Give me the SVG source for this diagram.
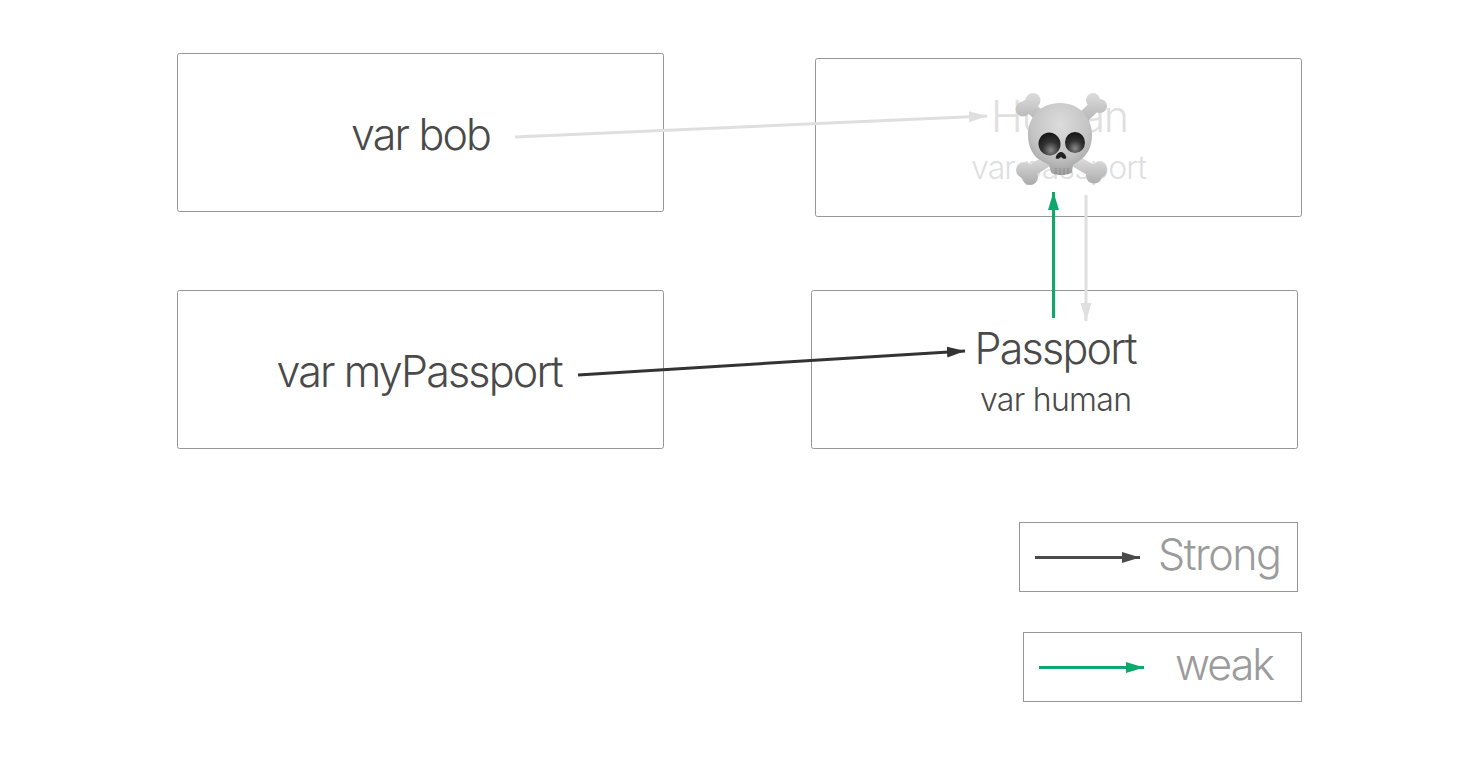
<svg xmlns="http://www.w3.org/2000/svg" width="1482" height="761" viewBox="0 0 1482 761">
<style>
.box{fill:#fff;stroke:#979797;stroke-width:1}
text{font-family:"Inter","Liberation Sans",sans-serif;font-weight:340;text-anchor:middle}
.dark{fill:#4a4a4a}.grey{fill:#9b9b9b}.faint{fill:#dfdfdf}
.l{fill:none;stroke-width:3}
.bt{stroke:url(#bt);stroke-width:12;stroke-linecap:round;fill:none}
.bb{stroke:url(#bb);stroke-width:12;stroke-linecap:round;fill:none}
</style>
<defs>
<marker id="ad" markerUnits="userSpaceOnUse" markerWidth="20" markerHeight="12" refX="18" refY="6" orient="auto"><path d="M0,0.500 L18,6 L0,11.500 Z" fill="#333"/></marker>
<marker id="as" markerUnits="userSpaceOnUse" markerWidth="20" markerHeight="12" refX="18" refY="6" orient="auto"><path d="M0,0.500 L18,6 L0,11.500 Z" fill="#4a4a4a"/></marker>
<marker id="ag" markerUnits="userSpaceOnUse" markerWidth="20" markerHeight="12" refX="18" refY="6" orient="auto"><path d="M0,0.500 L18,6 L0,11.500 Z" fill="#0ea86c"/></marker>
<marker id="af" markerUnits="userSpaceOnUse" markerWidth="20" markerHeight="12" refX="18" refY="6" orient="auto"><path d="M0,0.500 L18,6 L0,11.500 Z" fill="#dfdfdf"/></marker>
<radialGradient id="sk" cx="50%" cy="30%" r="75%"><stop offset="0" stop-color="#dcdcdc"/><stop offset=".6" stop-color="#c4c4c4"/><stop offset="1" stop-color="#969696"/></radialGradient>
<linearGradient id="bt" gradientUnits="userSpaceOnUse" x1="0" y1="93" x2="0" y2="126"><stop offset="0" stop-color="#dcdcdc"/><stop offset="1" stop-color="#aeaeae"/></linearGradient>
<linearGradient id="bb" gradientUnits="userSpaceOnUse" x1="0" y1="158" x2="0" y2="186"><stop offset="0" stop-color="#dcdcdc"/><stop offset="1" stop-color="#a8a8a8"/></linearGradient>
<radialGradient id="eye" cx="50%" cy="78%" r="75%"><stop offset="0" stop-color="#8a8a8a"/><stop offset=".5" stop-color="#333"/><stop offset="1" stop-color="#161616"/></radialGradient>
</defs>
<g id="bob"><rect class="box" x="177.500" y="53.500" width="486" height="158" rx="2"/><text class="dark" x="421.500" y="150" font-size="43" textLength="141">var bob</text></g>
<g id="human"><rect class="box" x="815.500" y="58.500" width="486" height="158" rx="2"/><text class="faint" x="1060" y="132" font-size="43" textLength="138">Human</text><text class="faint" x="1059" y="179" font-size="32" textLength="176">var passport</text></g>
<g id="myPassport"><rect class="box" x="177.500" y="290.500" width="486" height="158" rx="2"/><text class="dark" x="420" y="387" font-size="43" textLength="287">var myPassport</text></g>
<g id="passport"><rect class="box" x="811.500" y="290.500" width="486" height="158" rx="2"/><text class="dark" x="1056" y="364" font-size="43" textLength="163">Passport</text><text class="dark" x="1056" y="411" font-size="32" textLength="152">var human</text></g>
<g id="legend-strong"><rect class="box" x="1019.500" y="522.500" width="278" height="69"/><text class="grey" x="1220" y="570" font-size="43" textLength="124">Strong</text></g>
<g id="legend-weak"><rect class="box" x="1023.500" y="632.500" width="278" height="69"/><text class="grey" x="1225" y="680" font-size="43" textLength="100">weak</text></g>
<g id="connectors">
<line class="l" x1="515" y1="137" x2="987" y2="116" stroke="#dfdfdf" marker-end="url(#af)"/>
<line class="l" x1="578" y1="375" x2="965" y2="351" stroke="#333" marker-end="url(#ad)"/>
<line class="l" x1="1053.500" y1="318" x2="1053.500" y2="192" stroke="#0ea86c" marker-end="url(#ag)"/>
<line class="l" x1="1086" y1="195" x2="1086" y2="321" stroke="#dfdfdf" marker-end="url(#af)"/>
<line class="l" x1="1035" y1="557.500" x2="1140" y2="557.500" stroke="#4a4a4a" marker-end="url(#as)"/>
<line class="l" x1="1039" y1="667.500" x2="1144" y2="667.500" stroke="#0ea86c" marker-end="url(#ag)"/>
</g>
<g id="skull">
<path class="bt" d="M1028,105 L1052,128"/>
<path class="bt" d="M1097,104 L1072,128"/>
<path class="bb" d="M1026,174 L1052,158"/>
<path class="bb" d="M1096,173 L1070,158"/>
<g fill="url(#bt)">
<circle cx="1033" cy="100.500" r="7.500"/><circle cx="1023" cy="109" r="7.500"/>
<circle cx="1093" cy="100" r="7"/><circle cx="1100" cy="106" r="7"/>
</g>
<g fill="url(#bb)">
<circle cx="1024" cy="170" r="8"/><circle cx="1030" cy="177" r="8"/>
<circle cx="1099" cy="170" r="8"/><circle cx="1094" cy="175.500" r="8"/>
</g>
<path d="M1060,103 C1080,103 1092,118 1092,135 C1092,146 1088,153 1083,158 C1079,161 1076,163 1073,165 L1072,172 C1070,176 1052,176 1051,172 L1049,165 C1046,163 1041,161 1037,158 C1032,153 1028,146 1028,135 C1028,118 1040,103 1060,103 Z" fill="url(#sk)"/>
<ellipse cx="1049.500" cy="144" rx="11" ry="11.500" fill="url(#eye)" transform="rotate(-12 1049.500 144)"/>
<ellipse cx="1075" cy="142.500" rx="10" ry="10.500" fill="url(#eye)"/>
<path d="M1061,152 C1065,152 1067,158 1066,158.500 C1064,159.500 1062,158 1061,157 C1060,158 1058,159.500 1056,158.500 C1055,158 1057,152 1061,152 Z" fill="#222"/>
<path d="M1056,168 V174 M1060,168 V175 M1064,168 V175 M1068,168 V174" stroke="#8f8f8f" stroke-width="1" fill="none"/>
</g>
</svg>
